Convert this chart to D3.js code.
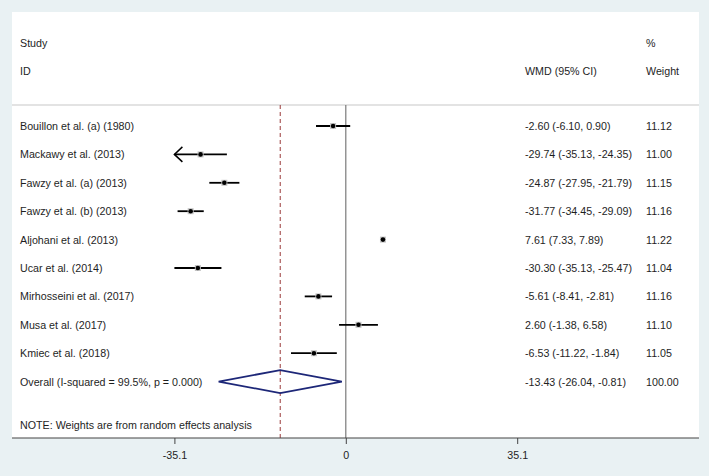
<!DOCTYPE html>
<html>
<head>
<meta charset="utf-8">
<script src="https://cdn.jsdelivr.net/npm/d3@7"></script>
<style>
  body { margin: 0; background: #e9f1f3; }
  svg { display: block; font-family: "Liberation Sans", Arial, sans-serif; }
  text { fill: #1e1e1e; font-size: 10.7px; }
</style>
</head>
<body>
<div id="chart"></div>
<script>
// study data
var studies = ["Bouillon et al. (a) (1980)", "Mackawy et al. (2013)", "Fawzy et al. (a) (2013)",
  "Fawzy et al. (b) (2013)", "Aljohani et al. (2013)", "Ucar et al. (2014)",
  "Mirhosseini et al. (2017)", "Musa et al. (2017)", "Kmiec et al. (2018)"];
var wmd   = [-2.60, -29.74, -24.87, -31.77, 7.61, -30.30, -5.61, 2.60, -6.53];
var lower = [-6.10, -35.13, -27.95, -34.45, 7.33, -35.13, -8.41, -1.38, -11.22];
var upper = [0.90, -24.35, -21.79, -29.09, 7.89, -25.47, -2.81, 6.58, -1.84];
var weights = ["11.12", "11.00", "11.15", "11.16", "11.22", "11.04", "11.16", "11.10", "11.05"];
var arrowLeft = [false, true, false, false, false, false, false, false, false];

var overall = { label: "Overall  (I-squared = 99.5%, p = 0.000)", est: -13.43, lo: -26.04, hi: -0.81, weight: "100.00" };
var tickValues = [-35.1, 0, 35.1];
var note = "NOTE: Weights are from random effects analysis";

var W = 709, H = 476;
var panel = { left: 12, top: 12, right: 699, bottom: 438 };
var headerLine = 105;

var svg = d3.select("#chart").append("svg").attr("width", W).attr("height", H);

svg.append("rect").attr("width", W).attr("height", H).attr("fill", "#e9f1f3");
svg.append("rect")
  .attr("x", panel.left).attr("y", panel.top)
  .attr("width", panel.right - panel.left).attr("height", panel.bottom - panel.top)
  .attr("fill", "#fff");

var x = d3.scaleLinear().domain([-35.1, 35.1]).range([174.4, 517.2]);
var y = d3.scalePoint().domain(d3.range(studies.length + 1)).range([126, 381.6]);

function fmt(v) { return d3.format(".2f")(v).replace("−", "-"); }

// header
svg.append("line").attr("x1", panel.left).attr("x2", panel.right)
  .attr("y1", headerLine).attr("y2", headerLine)
  .attr("stroke", "#dadada").attr("stroke-width", 1.5);

var hdr = svg.append("g").attr("dominant-baseline", "central");
hdr.append("text").attr("x", 20).attr("y", 43).text("Study");
hdr.append("text").attr("x", 20).attr("y", 71).text("ID");
hdr.append("text").attr("x", 525).attr("y", 71).text("WMD (95% CI)");
hdr.append("text").attr("x", 646).attr("y", 43).text("%");
hdr.append("text").attr("x", 646).attr("y", 71).text("Weight");

// reference lines
svg.append("line").attr("x1", x(0)).attr("x2", x(0))
  .attr("y1", headerLine).attr("y2", panel.bottom)
  .attr("stroke", "#7a7a7a").attr("stroke-width", 1.2);
svg.append("line").attr("x1", x(overall.est)).attr("x2", x(overall.est))
  .attr("y1", headerLine).attr("y2", panel.bottom)
  .attr("stroke", "#9a3a3a").attr("stroke-width", 1).attr("stroke-dasharray", "4,3");

// study rows
var rows = svg.selectAll(".row").data(studies).enter().append("g").attr("class", "row");

rows.append("line")
  .attr("x1", function (d, i) { return x(Math.max(lower[i], -35.1)); })
  .attr("x2", function (d, i) { return x(upper[i]); })
  .attr("y1", function (d, i) { return y(i); })
  .attr("y2", function (d, i) { return y(i); })
  .attr("stroke", "#000").attr("stroke-width", 1.8);

rows.filter(function (d, i) { return arrowLeft[i]; })
  .append("path")
  .attr("d", function (d) {
    var i2 = studies.indexOf(d), tx = x(-35.1), ty = y(i2);
    return "M" + (tx + 8) + "," + (ty - 7.5) + "L" + tx + "," + ty + "L" + (tx + 8) + "," + (ty + 7.5);
  })
  .attr("fill", "none").attr("stroke", "#000").attr("stroke-width", 1.5);

rows.append("rect")
  .attr("x", function (d, i) { return x(wmd[i]) - 3; })
  .attr("y", function (d, i) { return y(i) - 3; })
  .attr("width", 6).attr("height", 6)
  .attr("fill", "#c4c4c4");

rows.append("circle")
  .attr("cx", function (d, i) { return x(wmd[i]); })
  .attr("cy", function (d, i) { return y(i); })
  .attr("r", 2.3).attr("fill", "#000");

rows.append("text").attr("x", 20).attr("y", function (d, i) { return y(i); })
  .attr("dominant-baseline", "central").text(function (d) { return d; });
rows.append("text").attr("x", 525).attr("y", function (d, i) { return y(i); })
  .attr("dominant-baseline", "central")
  .text(function (d, i) { return fmt(wmd[i]) + " (" + fmt(lower[i]) + ", " + fmt(upper[i]) + ")"; });
rows.append("text").attr("x", 646).attr("y", function (d, i) { return y(i); })
  .attr("dominant-baseline", "central").text(function (d, i) { return weights[i]; });

// overall diamond
var oy = y(studies.length);
svg.append("path")
  .attr("d", "M" + x(overall.lo) + "," + oy + "L" + x(overall.est) + "," + (oy - 11.5) +
    "L" + x(overall.hi) + "," + oy + "L" + x(overall.est) + "," + (oy + 11.5) + "Z")
  .attr("fill", "none").attr("stroke", "#1d2778").attr("stroke-width", 1.8);
svg.append("text").attr("x", 20).attr("y", oy).attr("dominant-baseline", "central").text(overall.label);
svg.append("text").attr("x", 525).attr("y", oy).attr("dominant-baseline", "central")
  .text(fmt(overall.est) + " (" + fmt(overall.lo) + ", " + fmt(overall.hi) + ")");
svg.append("text").attr("x", 646).attr("y", oy).attr("dominant-baseline", "central").text(overall.weight);

svg.append("text").attr("x", 20).attr("y", 425).attr("dominant-baseline", "central").text(note);

// x axis
svg.append("line").attr("x1", panel.left).attr("x2", panel.right)
  .attr("y1", panel.bottom).attr("y2", panel.bottom)
  .attr("stroke", "#444").attr("stroke-width", 1.2);

var axis = svg.append("g").attr("transform", "translate(0," + panel.bottom + ")")
  .call(d3.axisBottom(x).tickValues(tickValues).tickSize(6).tickSizeOuter(0)
    .tickFormat(function (d) { return d3.format(".1f")(d).replace("−", "-").replace(/\.0$/, ""); }));
axis.select(".domain").remove();
axis.selectAll(".tick line").attr("stroke", "#444");
axis.selectAll(".tick text").attr("dy", null).attr("y", 17).attr("dominant-baseline", "central")
  .style("font-size", "10.7px").style("fill", "#1e1e1e").style("font-family", "Liberation Sans, Arial, sans-serif");
</script>
</body>
</html>
